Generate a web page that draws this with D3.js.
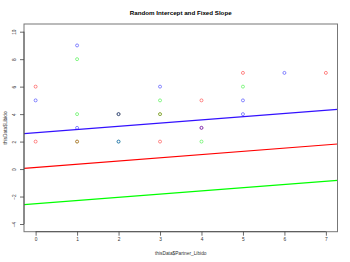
<!DOCTYPE html>
<html><head><meta charset="utf-8">
<script src="https://cdn.jsdelivr.net/npm/d3@7"></script>
<style>html,body{margin:0;padding:0;background:#fff;}svg{display:block;}</style>
</head><body>
<svg id="c" width="350" height="262"></svg>
<script>
// data (row order matters for overlap blending)
const partnerLibido = [0,0,0, 1,1,1,1,1,1, 2,2,2,2,2, 3,3,3,3,3, 4,4,4,4, 5,5,5,5, 6, 7];
const libido        = [6,5,2, 9,8,4,3,2,2, 4,4,4,2,2, 6,5,4,4,2, 5,3,3,2, 7,6,5,4, 7, 7];
const group         = ["r","b","r", "b","g","g","b","g","r", "r","g","b","g","b", "b","g","r","g","r", "r","r","b","g", "r","g","b","b", "b","r"];
const groupNames = ["r","g","b"];
const groupColors = ["#ff0000","#00ee00","#0000ff"];
const lineColors  = ["#ff0000","#00ff00","#3311ff"];
const intercepts = [0.12, -2.53, 2.64];
const slope = 0.234;
const xTicks = [0,1,2,3,4,5,6,7];
const yTicks = [-4,-2,0,2,4,6,8,10];
const title = "Random Intercept and Fixed Slope";
const xLabel = "thisData$Partner_Libido";
const yLabel = "thisData$Libido";

const svg = d3.select("#c");
const L = 24, R = 337.5, T = 24, B = 231.7;
const x = d3.scaleLinear().domain([-0.28, 7.28]).range([L, R]);
const y = d3.scaleLinear().domain([-4.56, 10.56]).range([B, T]);
const col = d3.scaleOrdinal().domain(groupNames).range(groupColors);
const font = "Liberation Sans, Arial, sans-serif";

svg.append("defs").append("clipPath").attr("id","clip")
  .append("rect").attr("x",L).attr("y",T).attr("width",R-L).attr("height",B-T);

// points
const pts = partnerLibido.map((d,i)=>({x:d,y:libido[i],g:group[i]}));
svg.append("g").selectAll("circle").data(pts).join("circle")
  .attr("cx",d=>x(d.x)).attr("cy",d=>y(d.y)).attr("r",1.5)
  .attr("fill","none").attr("stroke",d=>col(d.g)).attr("stroke-width",0.9)
  .attr("stroke-opacity",0.5);

// lines
const lg = svg.append("g").attr("clip-path","url(#clip)");
intercepts.forEach((a,i)=>{
  const xd = x.domain();
  lg.append("line")
    .attr("x1",x(xd[0])).attr("y1",y(a+slope*xd[0]))
    .attr("x2",x(xd[1])).attr("y2",y(a+slope*xd[1]))
    .attr("stroke",lineColors[i]).attr("stroke-width",1.2);
});

// box
svg.append("rect").attr("x",L).attr("y",T).attr("width",R-L).attr("height",B-T)
  .attr("fill","none").attr("stroke","#777").attr("stroke-width",1);

// axes
const xa = svg.append("g").attr("transform",`translate(0,${B})`)
  .call(d3.axisBottom(x).tickValues(xTicks).tickSize(4).tickPadding(2).tickFormat(d3.format("d")));
const ya = svg.append("g").attr("transform",`translate(${L},0)`)
  .call(d3.axisLeft(y).tickValues(yTicks).tickSize(4).tickPadding(2).tickFormat(d3.format("d")));
[xa,ya].forEach(a=>{
  a.select(".domain").remove();
  a.selectAll(".tick line").attr("stroke","#444").attr("stroke-width",0.8);
  a.selectAll("text").attr("font-family",font).attr("font-size",4.8).attr("fill","#333");
});
// axis lines from first to last tick
svg.append("line").attr("x1",x(xTicks[0])).attr("x2",x(xTicks[xTicks.length-1]))
  .attr("y1",B).attr("y2",B).attr("stroke","#444").attr("stroke-width",0.8);
svg.append("line").attr("y1",y(yTicks[0])).attr("y2",y(yTicks[yTicks.length-1]))
  .attr("x1",L).attr("x2",L).attr("stroke","#444").attr("stroke-width",0.8);
// rotate y tick labels
ya.selectAll(".tick text").attr("x",0).attr("dy",null)
  .attr("text-anchor","middle")
  .attr("transform","translate(-9.5,0) rotate(-90)")
  .attr("dominant-baseline","middle");
xa.selectAll(".tick text").attr("dy","0.71em");

// title & labels
svg.append("text").attr("x",(L+R)/2).attr("y",15).attr("text-anchor","middle")
  .attr("font-family",font).attr("font-size",6.2).attr("font-weight","bold").attr("fill","#000")
  .text(title);
svg.append("text").attr("x",(L+R)/2).attr("y",255).attr("text-anchor","middle")
  .attr("font-family",font).attr("font-size",4.8).attr("fill","#333").text(xLabel);
svg.append("text").attr("transform",`translate(7,${(T+B)/2}) rotate(-90)`).attr("text-anchor","middle")
  .attr("font-family",font).attr("font-size",4.8).attr("fill","#333").text(yLabel);
</script>
</body></html>
